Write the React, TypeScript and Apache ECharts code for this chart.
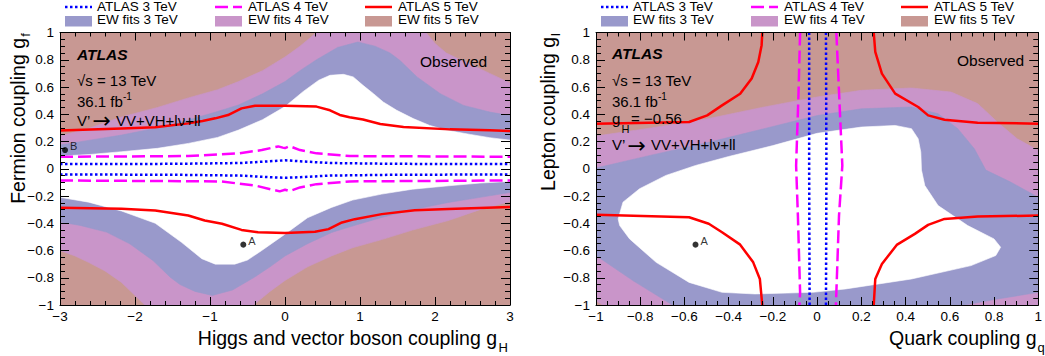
import React, { useEffect, useRef } from 'react';
import * as echarts from 'echarts';

type P = [number, number];

const FONT = "'Liberation Sans', Arial, Helvetica, sans-serif";
const C_EW3 = '#9999cb';
const C_EW4 = '#c995c9';
const C_EW5 = '#c89893';
const C_A3 = '#0000ff';
const C_A4 = '#ff00ff';
const C_A5 = '#ff0000';

// ---------- Left panel (g_H vs g_f) ----------
const L_EW5_UPPER: P[] = [[-3, 0.24], [-2.6, 0.3], [-2.18, 0.38], [-1.7, 0.45], [-1.29, 0.52], [-0.9, 0.58], [-0.62, 0.64], [-0.3, 0.72], [0, 0.82], [0.2, 0.9], [0.42, 1.0], [1.88, 1.0], [2.0, 0.92], [2.15, 0.85], [2.3, 0.81], [2.5, 0.76], [2.73, 0.7], [3, 0.63]];
const L_EW5_LOWER: P[] = [[-3, -0.6], [-2.8, -0.64], [-2.62, -0.687], [-2.4, -0.75], [-2.18, -0.834], [-2.0, -0.93], [-1.87, -1.0], [-0.42, -1.0], [-0.2, -0.9], [0, -0.82], [0.3, -0.72], [0.62, -0.64], [0.9, -0.58], [1.29, -0.52], [1.7, -0.45], [2.18, -0.38], [2.6, -0.3], [3, -0.24]];
const L_EW4_UPPER: P[] = [[-3, 0.174], [-2.6, 0.21], [-2.18, 0.247], [-1.7, 0.3], [-1.29, 0.357], [-0.9, 0.42], [-0.62, 0.468], [-0.3, 0.55], [0, 0.64], [0.2, 0.72], [0.42, 0.8], [0.7, 0.89], [0.97, 0.93], [1.2, 0.9], [1.4, 0.85], [1.53, 0.796], [1.76, 0.674], [2.07, 0.551], [2.38, 0.465], [2.73, 0.416], [3, 0.39]];
const L_EW4_LOWER: P[] = [[-3, -0.39], [-2.73, -0.416], [-2.38, -0.465], [-2.07, -0.551], [-1.76, -0.674], [-1.53, -0.796], [-1.4, -0.85], [-1.2, -0.9], [-0.97, -0.93], [-0.7, -0.89], [-0.42, -0.8], [-0.2, -0.72], [0, -0.64], [0.3, -0.55], [0.62, -0.468], [0.9, -0.42], [1.29, -0.357], [1.7, -0.3], [2.18, -0.247], [2.6, -0.21], [3, -0.174]];
const L_EW3_UPPER: P[] = [[-3, 0.093], [-2.6, 0.105], [-2.18, 0.125], [-1.7, 0.15], [-1.29, 0.186], [-0.9, 0.23], [-0.62, 0.284], [-0.3, 0.36], [0, 0.456], [0.24, 0.566], [0.45, 0.65], [0.6, 0.686], [0.78, 0.693], [0.91, 0.674], [1.04, 0.612], [1.18, 0.551], [1.31, 0.49], [1.49, 0.429], [1.71, 0.368], [1.93, 0.318], [2.16, 0.282], [2.47, 0.252], [2.73, 0.228], [3, 0.21]];
const L_EW3_LOWER: P[] = [[-3, -0.21], [-2.62, -0.245], [-2.18, -0.31], [-1.73, -0.4], [-1.38, -0.54], [-1.11, -0.66], [-0.93, -0.7], [-0.67, -0.7], [-0.5, -0.67], [-0.31, -0.6], [0, -0.48], [0.3, -0.36], [0.62, -0.284], [0.9, -0.23], [1.29, -0.186], [1.7, -0.15], [2.18, -0.125], [2.6, -0.105], [3, -0.093]];

const L_ATLAS5_UPPER: P[] = [[-3, 0.28], [-2.18, 0.296], [-1.73, 0.304], [-1.29, 0.333], [-1.1, 0.35], [-0.93, 0.37], [-0.76, 0.394], [-0.58, 0.443], [-0.4, 0.463], [0, 0.463], [0.42, 0.456], [0.6, 0.429], [0.73, 0.395], [0.86, 0.378], [1.04, 0.362], [1.27, 0.328], [1.58, 0.306], [2.2, 0.289], [2.73, 0.282], [3, 0.277]];
const L_ATLAS5_LOWER: P[] = [[-3, -0.287], [-2.18, -0.294], [-1.73, -0.307], [-1.29, -0.343], [-1.07, -0.38], [-0.84, -0.404], [-0.58, -0.449], [-0.36, -0.466], [0, -0.471], [0.4, -0.463], [0.58, -0.443], [0.76, -0.394], [0.93, -0.37], [1.29, -0.333], [1.73, -0.304], [2.18, -0.296], [3, -0.28]];
const L_ATLAS4_UPPER: P[] = [[-3, 0.088], [-1.29, 0.093], [-0.62, 0.113], [-0.31, 0.137], [-0.09, 0.164], [-0.03, 0.155], [0.0, 0.152], [0.06, 0.166], [0.2, 0.137], [0.42, 0.113], [0.86, 0.093], [3, 0.088]];
const L_ATLAS4_LOWER: P[] = [[-3, -0.086], [-0.86, -0.093], [-0.4, -0.123], [-0.18, -0.152], [-0.07, -0.166], [0, -0.154], [0.06, -0.164], [0.2, -0.137], [0.42, -0.113], [0.86, -0.093], [3, -0.086]];
const L_ATLAS3_UPPER: P[] = [[-3, 0.034], [-1.5, 0.036], [-0.6, 0.042], [-0.2, 0.055], [0, 0.062], [0.2, 0.055], [0.6, 0.042], [1.5, 0.036], [3, 0.034]];
const L_ATLAS3_LOWER: P[] = [[-3, -0.042], [-1.5, -0.044], [-0.6, -0.05], [-0.2, -0.062], [0, -0.066], [0.2, -0.062], [0.6, -0.05], [1.5, -0.044], [3, -0.042]];

const L_POINT_NAMES = ['A', 'B'];
const L_POINT_X = [-0.556, -2.933];
const L_POINT_Y = [-0.557, 0.137];

// ---------- Right panel (g_q vs g_l) ----------
const R_EW5_REGION: P[] = [[-1, 0.24], [-0.75, 0.3], [-0.5, 0.365], [-0.25, 0.45], [0, 0.527], [0.2, 0.576], [0.427, 0.593], [0.606, 0.563], [0.726, 0.478], [0.815, 0.343], [0.905, 0.22], [1.0, 0.135], [1, -1], [-0.97, -1], [-1, -0.97]];
const R_EW4_REGION: P[] = [[-1, 0.005], [-0.75, 0.1], [-0.5, 0.19], [-0.25, 0.29], [0, 0.39], [0.2, 0.44], [0.427, 0.453], [0.547, 0.404], [0.636, 0.294], [0.711, 0.147], [0.763, -0.01], [0.875, -0.098], [1.0, -0.209], [1, -0.907], [0.815, -0.956], [0.666, -1], [-0.654, -1], [-0.833, -0.821], [-1, -0.637]];
const R_EW3_REGION: P[] = [[-0.9, -0.368], [-0.878, -0.245], [-0.803, -0.147], [-0.684, -0.049], [-0.55, 0.024], [-0.4, 0.09], [-0.2, 0.17], [0, 0.26], [0.2, 0.306], [0.353, 0.318], [0.427, 0.294], [0.457, 0.22], [0.469, 0.122], [0.472, -0.01], [0.487, -0.123], [0.547, -0.27], [0.681, -0.417], [0.8, -0.515], [0.83, -0.576], [0.808, -0.637], [0.696, -0.711], [0.427, -0.809], [0.129, -0.882], [-0.02, -0.907], [-0.281, -0.919], [-0.43, -0.907], [-0.579, -0.834], [-0.728, -0.687], [-0.848, -0.515], [-0.893, -0.417]];

const R_ATLAS5_TL: P[] = [[-1, 0.331], [-0.579, 0.343], [-0.497, 0.392], [-0.43, 0.465], [-0.348, 0.551], [-0.296, 0.662], [-0.266, 0.784], [-0.251, 0.907], [-0.248, 1.0]];
const R_ATLAS5_BL: P[] = [[-1, -0.338], [-0.579, -0.356], [-0.49, -0.404], [-0.43, -0.466], [-0.348, -0.557], [-0.289, -0.687], [-0.259, -0.809], [-0.248, -1.0]];
const R_ATLAS5_TR: P[] = [[0.256, 1.0], [0.263, 0.857], [0.293, 0.698], [0.353, 0.551], [0.457, 0.453], [0.502, 0.392], [0.576, 0.36], [0.726, 0.338], [1.0, 0.331]];
const R_ATLAS5_BR: P[] = [[0.256, -1], [0.263, -0.809], [0.293, -0.699], [0.36, -0.559], [0.442, -0.478], [0.502, -0.412], [0.576, -0.368], [0.726, -0.351], [1.0, -0.343]];
const R_ATLAS4_L: P[] = [[-0.077, 1.0], [-0.084, 0.563], [-0.095, 0.024], [-0.087, -0.343], [-0.077, -0.907], [-0.08, -1.0]];
const R_ATLAS4_R: P[] = [[0.087, 1.0], [0.099, 0.563], [0.114, 0.024], [0.099, -0.343], [0.087, -0.907], [0.085, -1.0]];
const R_ATLAS3_L: P[] = [[-0.036, 1.0], [-0.036, 0.0], [-0.034, -1.0]];
const R_ATLAS3_R: P[] = [[0.04, 1.0], [0.042, 0.0], [0.04, -1.0]];

const R_POINT_NAMES = ['A'];
const R_POINT_X = [-0.55];
const R_POINT_Y = [-0.557];

// ---------- Text ----------
const LEGEND_LINES = ['ATLAS 3 TeV', 'ATLAS 4 TeV', 'ATLAS 5 TeV'];
const LEGEND_FITS = ['EW fits 3 TeV', 'EW fits 4 TeV', 'EW fits 5 TeV'];

const DASH3 = [2.5, 2.5];
const DASH4 = [13, 5];

const fmt = (v: number) => {
  const r = Math.round(v * 10) / 10;
  return (r === 0 ? '0' : String(r)).replace('-', '\u2212');
};

function axisPair(gridIndex: number, min: number, max: number, interval: number, minorSplit: number, kind: 'x' | 'y') {
  const common: any = {
    type: 'value', gridIndex, min, max, interval, z: 10,
    splitLine: { show: false }, minorSplitLine: { show: false },
    axisLine: { show: true, onZero: false, lineStyle: { color: '#000', width: 1 } },
    axisTick: { show: true, inside: true, length: kind === 'x' ? 8 : 9, lineStyle: { color: '#000', width: 1 } },
    minorTick: { show: true, splitNumber: minorSplit, length: kind === 'x' ? 4 : 5, lineStyle: { color: '#000', width: 1 } },
  };
  return [
    {
      ...common, position: kind === 'x' ? 'bottom' : 'left',
      axisLabel: { show: true, fontFamily: FONT, fontSize: 13.5, color: '#000', margin: kind === 'x' ? 4 : 6, formatter: fmt, showMinLabel: true, showMaxLabel: true },
    },
    { ...common, position: kind === 'x' ? 'top' : 'right', axisLabel: { show: false } },
  ];
}

function region(pts: P[], color: string, panel: number, z: number) {
  return {
    type: 'custom', xAxisIndex: panel * 2, yAxisIndex: panel * 2, silent: true, clip: true, z,
    data: pts, encode: { x: 0, y: 1 },
    renderItem: (params: any, api: any) => {
      if (params.dataIndex !== 0) return null;
      return { type: 'polygon', shape: { points: pts.map((p) => api.coord(p)) }, style: { fill: color, stroke: color, lineWidth: 0.6 } };
    },
  };
}

function band(upper: P[], lower: P[]): P[] {
  return upper.concat(lower.slice().reverse());
}

function curve(pts: P[], color: string, type: any, panel: number) {
  return {
    type: 'line', xAxisIndex: panel * 2, yAxisIndex: panel * 2, data: pts, showSymbol: false, symbol: 'none',
    silent: true, z: 5, clip: true,
    lineStyle: { color, width: 2.5, type, cap: 'butt', join: 'round' },
  };
}

function points(names: string[], xs: number[], ys: number[], panel: number) {
  return {
    type: 'scatter', xAxisIndex: panel * 2, yAxisIndex: panel * 2, z: 6, silent: true,
    symbolSize: 6, itemStyle: { color: '#000' },
    data: names.map((n, i) => ({ name: n, value: [xs[i], ys[i]] })),
    label: { show: true, position: 'right', distance: 2, offset: [0, -4], formatter: (p: any) => p.name, fontFamily: FONT, fontSize: 11, color: '#000' },
  };
}

function txt(x: number, baseline: number, text: string, size: number, extra: any = {}, align = 'left') {
  return {
    type: 'text', x, y: baseline - 0.347 * size, z: 20, silent: true,
    style: { text, fontSize: size, fontFamily: FONT, fill: '#000', align, verticalAlign: 'middle', ...extra },
  };
}

function arrow(x: number, centerY: number) {
  return {
    type: 'text', x, y: centerY, z: 20, silent: true,
    style: { text: '\u2192', fontSize: 22, fontFamily: "'DejaVu Sans', sans-serif", fill: '#000', align: 'left', verticalAlign: 'middle' },
  };
}

function rtxt(centerX: number, endY: number, text: string, size: number) {
  return {
    type: 'text', x: centerX, y: endY, rotation: Math.PI / 2, z: 20, silent: true,
    style: { text, fontSize: size, fontFamily: FONT, fill: '#000', align: 'right', verticalAlign: 'middle' },
  };
}

function legend(ox: number) {
  const els: any[] = [];
  const symX = [65, 215, 365];
  const txtX = [97, 248, 398];
  const lineStyles: any[] = [
    { stroke: C_A3, lineWidth: 2.5, lineDash: DASH3 },
    { stroke: C_A4, lineWidth: 2.5, lineDash: DASH4 },
    { stroke: C_A5, lineWidth: 2.5 },
  ];
  const fills = [C_EW3, C_EW4, C_EW5];
  for (let i = 0; i < 3; i++) {
    els.push({ type: 'line', z: 20, silent: true, shape: { x1: symX[i] + ox, y1: 7, x2: symX[i] + 27 + ox, y2: 7 }, style: lineStyles[i] });
    els.push(txt(txtX[i] + ox, 10.8, LEGEND_LINES[i], 13.5));
    els.push({ type: 'rect', z: 20, silent: true, shape: { x: symX[i] + ox, y: 16, width: 27, height: 10.5 }, style: { fill: fills[i] } });
    els.push(txt(txtX[i] + ox, 24, LEGEND_FITS[i], 13.5));
  }
  return els;
}

function decay(x: number, baseline: number) {
  return [
    txt(x, baseline, 'V\u2019', 15),
    arrow(x + 15.5, baseline - 5),
    txt(x + 39, baseline, 'VV+VH+l\u03BD+ll', 15),
  ];
}

function buildOption(): any {
  const graphic: any[] = [
    ...legend(0),
    ...legend(536),
    // left panel texts
    txt(77, 60.3, 'ATLAS', 15.5, { fontWeight: 'bold', fontStyle: 'italic' }),
    txt(77, 85.3, '\u221As = 13 TeV', 15),
    txt(77, 106.3, '36.1 fb', 15),
    txt(123, 100, '-1', 10),
    ...decay(77, 125.3),
    txt(420, 66.5, 'Observed', 15.5),
    // right panel texts
    txt(612, 59.3, 'ATLAS', 15.5, { fontWeight: 'bold', fontStyle: 'italic' }),
    txt(612, 85.7, '\u221As = 13 TeV', 15),
    txt(612, 106.7, '36.1 fb', 15),
    txt(658, 100.4, '-1', 10),
    txt(612, 124, 'g', 15),
    txt(621.5, 133.3, 'H', 11),
    txt(631, 124, '= \u22120.56', 15),
    ...decay(612, 150),
    txt(957, 65.7, 'Observed', 15.5),
    // axis titles
    txt(497, 345, 'Higgs and vector boson coupling g', 19.5, {}, 'right'),
    txt(498.5, 352.5, 'H', 13),
    txt(1036.5, 345, 'Quark coupling g', 19.5, {}, 'right'),
    txt(1037.5, 352.5, 'q', 13),
    rtxt(25 - 0.347 * 19.5, 38, 'Fermion coupling g', 19.5),
    rtxt(30 - 0.347 * 13, 33, 'f', 13),
    rtxt(555 - 0.347 * 19.5, 37, 'Lepton coupling g', 19.5),
    rtxt(560 - 0.347 * 13, 33, 'l', 13),
  ];

  return {
    animation: false,
    backgroundColor: '#ffffff',
    textStyle: { fontFamily: FONT },
    grid: [
      { left: 60, top: 32.5, width: 450, height: 272.5, show: true, backgroundColor: C_EW5, borderWidth: 0 },
      { left: 596, top: 32.5, width: 447, height: 272.5, show: true, backgroundColor: C_EW5, borderWidth: 0 },
    ],
    xAxis: [...axisPair(0, -3, 3, 1, 5, 'x'), ...axisPair(1, -1, 1, 0.2, 4, 'x')],
    yAxis: [...axisPair(0, -1, 1, 0.2, 4, 'y'), ...axisPair(1, -1, 1, 0.2, 4, 'y')],
    series: [
      region(band(L_EW5_UPPER, L_EW5_LOWER), C_EW4, 0, 2),
      region(band(L_EW4_UPPER, L_EW4_LOWER), C_EW3, 0, 3),
      region(band(L_EW3_UPPER, L_EW3_LOWER), '#ffffff', 0, 4),
      curve(L_ATLAS5_UPPER, C_A5, 'solid', 0),
      curve(L_ATLAS5_LOWER, C_A5, 'solid', 0),
      curve(L_ATLAS4_UPPER, C_A4, DASH4, 0),
      curve(L_ATLAS4_LOWER, C_A4, DASH4, 0),
      curve(L_ATLAS3_UPPER, C_A3, DASH3, 0),
      curve(L_ATLAS3_LOWER, C_A3, DASH3, 0),
      points(L_POINT_NAMES, L_POINT_X, L_POINT_Y, 0),

      region(R_EW5_REGION, C_EW4, 1, 2),
      region(R_EW4_REGION, C_EW3, 1, 3),
      region(R_EW3_REGION, '#ffffff', 1, 4),
      curve(R_ATLAS5_TL, C_A5, 'solid', 1),
      curve(R_ATLAS5_BL, C_A5, 'solid', 1),
      curve(R_ATLAS5_TR, C_A5, 'solid', 1),
      curve(R_ATLAS5_BR, C_A5, 'solid', 1),
      curve(R_ATLAS4_L, C_A4, DASH4, 1),
      curve(R_ATLAS4_R, C_A4, DASH4, 1),
      curve(R_ATLAS3_L, C_A3, DASH3, 1),
      curve(R_ATLAS3_R, C_A3, DASH3, 1),
      points(R_POINT_NAMES, R_POINT_X, R_POINT_Y, 1),
    ],
    graphic,
  };
}

export default function App() {
  const ref = useRef<HTMLDivElement>(null);
  useEffect(() => {
    if (!ref.current) return;
    const chart = echarts.init(ref.current, null, { renderer: 'svg' });
    chart.setOption(buildOption());
    return () => chart.dispose();
  }, []);
  return <div ref={ref} style={{ position: 'fixed', left: 0, top: 0, width: 1045, height: 356, background: '#fff' }} />;
}
